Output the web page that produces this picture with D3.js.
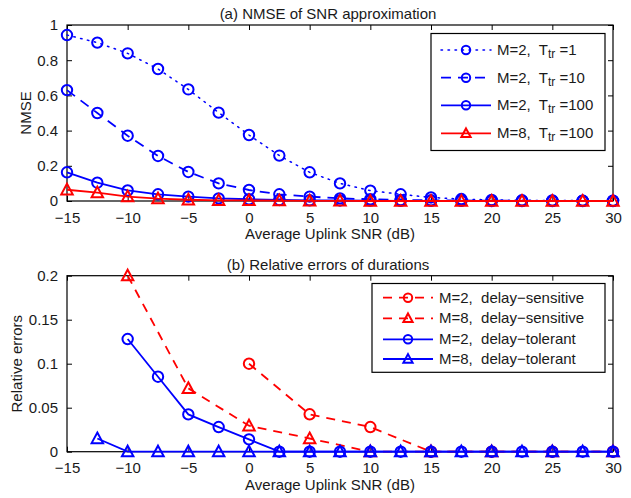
<!DOCTYPE html>
<html><head><meta charset="utf-8">
<script src="https://cdnjs.cloudflare.com/ajax/libs/d3/7.8.5/d3.min.js"></script>
<style>
body{margin:0;background:#fff;}
svg text{font-family:"Liberation Sans",Arial,sans-serif;fill:#1a1a1a;white-space:pre;}
</style></head>
<body><svg id="c" width="631" height="498"></svg>
<script>
// ---------- data ----------
const snrTicks = [-15,-10,-5,0,5,10,15,20,25,30];
const snrA = [-15,-12.5,-10,-7.5,-5,-2.5,0,2.5,5,7.5,10,12.5,15,17.5,20,22.5,25,27.5,30];
const nmseM2T1   = [0.943,0.90,0.839,0.75,0.634,0.502,0.375,0.258,0.163,0.10,0.059,0.038,0.02,0.011,0.006,0.004,0.003,0.002,0.001];
const nmseM2T10  = [0.63,0.50,0.371,0.256,0.165,0.10,0.0625,0.038,0.025,0.015,0.01,0.006,0.004,0.003,0.002,0.001,0.001,0.001,0.001];
const nmseM2T100 = [0.163,0.104,0.06,0.038,0.025,0.015,0.01,0.006,0.004,0.003,0.002,0.001,0.001,0.001,0,0,0,0,0];
const nmseM8T100 = [0.064,0.047,0.025,0.013,0.007,0.004,0.003,0.002,0.001,0.001,0,0,0,0,0,0,0,0,0];
const yTicksA = [0,0.2,0.4,0.6,0.8,1];
const yTickLabelsA = ["0","0.2","0.4","0.6","0.8","1"];

const snrM2S = [0,5,10,15,20,25,30];
const errM2S = [0.1,0.0425,0.028,0,0,0,0];
const snrM8S = [-10,-5,0,5,10,15,20,25,30];
const errM8S = [0.2,0.072,0.0295,0.015,0,0,0,0,0];
const snrM2T = [-10,-7.5,-5,-2.5,0,2.5,5,7.5,10,12.5,15,17.5,20,22.5,25,27.5,30];
const errM2T = [0.128,0.0852,0.0424,0.028,0.014,0,0,0,0,0,0,0,0,0,0,0,0];
const snrM8T = [-12.5,-10,-7.5,-5,-2.5,0,2.5,5,7.5,10,12.5,15,17.5,20,22.5,25,27.5,30];
const errM8T = [0.015,0,0,0,0,0,0,0,0,0,0,0,0,0,0,0,0,0];
const yTicksB = [0,0.05,0.1,0.15,0.2];
const yTickLabelsB = ["0","0.05","0.1","0.15","0.2"];

const titleA = "(a) NMSE of SNR approximation";
const titleB = "(b) Relative errors of durations";
const xLabel = "Average Uplink SNR (dB)";

// ---------- drawing ----------
const svg = d3.select("#c");
const BLUE="#0000ff", RED="#ff0000";
const FS = 15;
const FF = "Liberation Sans, Arial, sans-serif";
const minus = v => (v<0 ? "\u2212"+Math.abs(v) : String(v));

function panel(cfg){
  const g = svg.append("g");
  const x = d3.scaleLinear().domain([-15,30]).range([67,613]);
  const y = d3.scaleLinear().domain(cfg.ydom).range([cfg.bottom,cfg.top]);
  g.append("rect").attr("x",67).attr("y",cfg.top).attr("width",546).attr("height",cfg.bottom-cfg.top)
   .attr("fill","none").attr("stroke","#000").attr("stroke-width",1.2);
  const tl=5;
  const xa = d3.axisBottom(x).tickValues(snrTicks).tickSize(-tl).tickPadding(11).tickFormat(minus);
  const gx = g.append("g").attr("transform",`translate(0,${cfg.bottom})`).call(xa);
  const xt = d3.axisTop(x).tickValues(snrTicks).tickSize(-tl).tickFormat("");
  const gxt = g.append("g").attr("transform",`translate(0,${cfg.top})`).call(xt);
  const ya = d3.axisLeft(y).tickValues(cfg.yticks).tickSize(-tl).tickPadding(9).tickFormat((d,i)=>cfg.ylabels[i]);
  const gy = g.append("g").attr("transform",`translate(67,0)`).call(ya);
  const yr = d3.axisRight(y).tickValues(cfg.yticks).tickSize(-tl).tickFormat("");
  const gyr = g.append("g").attr("transform",`translate(613,0)`).call(yr);
  [gx,gxt,gy,gyr].forEach(a=>{a.select(".domain").remove();a.selectAll("line").attr("stroke","#000").attr("stroke-width",1);
    a.selectAll("text").attr("font-size",FS).attr("fill","#1a1a1a").attr("font-family",FF);});
  g.append("text").attr("x",328).attr("y",cfg.top-6).attr("text-anchor","middle").attr("font-size",FS).text(cfg.title);
  g.append("text").attr("x",330).attr("y",cfg.bottom+38).attr("text-anchor","middle").attr("font-size",FS).text(xLabel);
  g.append("text").attr("transform",`translate(${cfg.ylx},${(cfg.top+cfg.bottom)/2}) rotate(-90)`).attr("text-anchor","middle").attr("font-size",FS).text(cfg.ylabel);
  cfg.series.forEach(s=>{
    const pts = s.xs.map((v,i)=>[x(v),y(s.ys[i])]);
    g.append("path").attr("d",d3.line()(pts)).attr("fill","none").attr("stroke",s.color).attr("stroke-width",s.lw||1.8)
     .attr("stroke-dasharray",s.dash||null).attr("stroke-linecap",s.dash==="1.5,5.5"?"round":"butt");
    pts.forEach(p=>drawMarker(g,s.marker,p[0],p[1],s.color,5.2));
  });
  const L = cfg.legend;
  g.append("rect").attr("x",L.x0).attr("y",L.y0).attr("width",L.x1-L.x0).attr("height",L.y1-L.y0)
   .attr("fill","#fff").attr("stroke","#000").attr("stroke-width",1.2);
  cfg.series.forEach((s,i)=>{
    const yy = L.rows[i];
    g.append("line").attr("x1",L.lx0).attr("x2",L.lx1).attr("y1",yy).attr("y2",yy).attr("stroke",s.color).attr("stroke-width",s.lw||1.8)
     .attr("stroke-dasharray",s.dash||null).attr("stroke-linecap",s.dash==="1.5,5.5"?"round":"butt");
    drawMarker(g,s.marker,(L.lx0+L.lx1)/2,yy,s.color,4.2);
    const t = g.append("text").attr("x",L.tx).attr("y",yy+5).attr("font-size",FS);
    s.label.forEach(part=>{
      const ts = t.append("tspan").text(part.t);
      if(part.sub){ts.attr("font-size",FS*0.8).attr("dy",3);}
      if(part.up){ts.attr("dy",-3);}
    });
  });
}
function drawMarker(g,type,cx,cy,color,r){
  if(type==="o"){
    g.append("circle").attr("cx",cx).attr("cy",cy).attr("r",r).attr("fill","none").attr("stroke",color).attr("stroke-width",2);
  } else {
    const h=r*1.05;
    g.append("path").attr("d",`M${cx},${cy-h*1.1}L${cx+h*1.05},${cy+h*0.85}L${cx-h*1.05},${cy+h*0.85}Z`)
     .attr("fill","none").attr("stroke",color).attr("stroke-width",2).attr("stroke-linejoin","miter");
  }
}

const Ttr = (m,v)=>[{t:`M=${m},  T`},{t:"tr",sub:true},{t:` =${v}`,up:true}];

panel({top:25,bottom:201,ydom:[0,1],yticks:yTicksA,ylabels:yTickLabelsA,title:titleA,ylabel:"NMSE",ylx:31,
  series:[
    {xs:snrA,ys:nmseM2T1,color:BLUE,marker:"o",dash:"1.5,5.5",lw:1.5,label:Ttr(2,1)},
    {xs:snrA,ys:nmseM2T10,color:BLUE,marker:"o",dash:"10,7",label:Ttr(2,10)},
    {xs:snrA,ys:nmseM2T100,color:BLUE,marker:"o",label:Ttr(2,100)},
    {xs:snrA,ys:nmseM8T100,color:RED,marker:"^",label:Ttr(8,100)}
  ],
  legend:{x0:431,x1:605,y0:33.5,y1:150.5,rows:[50,77.7,105.3,133.3],lx0:441,lx1:491,tx:497}
});
panel({top:275.7,bottom:451.7,ydom:[0,0.2],yticks:yTicksB,ylabels:yTickLabelsB,title:titleB,ylabel:"Relative errors",ylx:22,
  series:[
    {xs:snrM2S,ys:errM2S,color:RED,marker:"o",dash:"9,7",label:[{t:"M=2,  delay\u2212sensitive"}]},
    {xs:snrM8S,ys:errM8S,color:RED,marker:"^",dash:"9,7",label:[{t:"M=8,  delay\u2212sensitive"}]},
    {xs:snrM2T,ys:errM2T,color:BLUE,marker:"o",label:[{t:"M=2,  delay\u2212tolerant"}]},
    {xs:snrM8T,ys:errM8T,color:BLUE,marker:"^",label:[{t:"M=8,  delay\u2212tolerant"}]}
  ],
  legend:{x0:372,x1:605,y0:283.5,y1:372.3,rows:[297.7,318.3,339.3,359],lx0:383,lx1:433,tx:439},
});
</script></body></html>
